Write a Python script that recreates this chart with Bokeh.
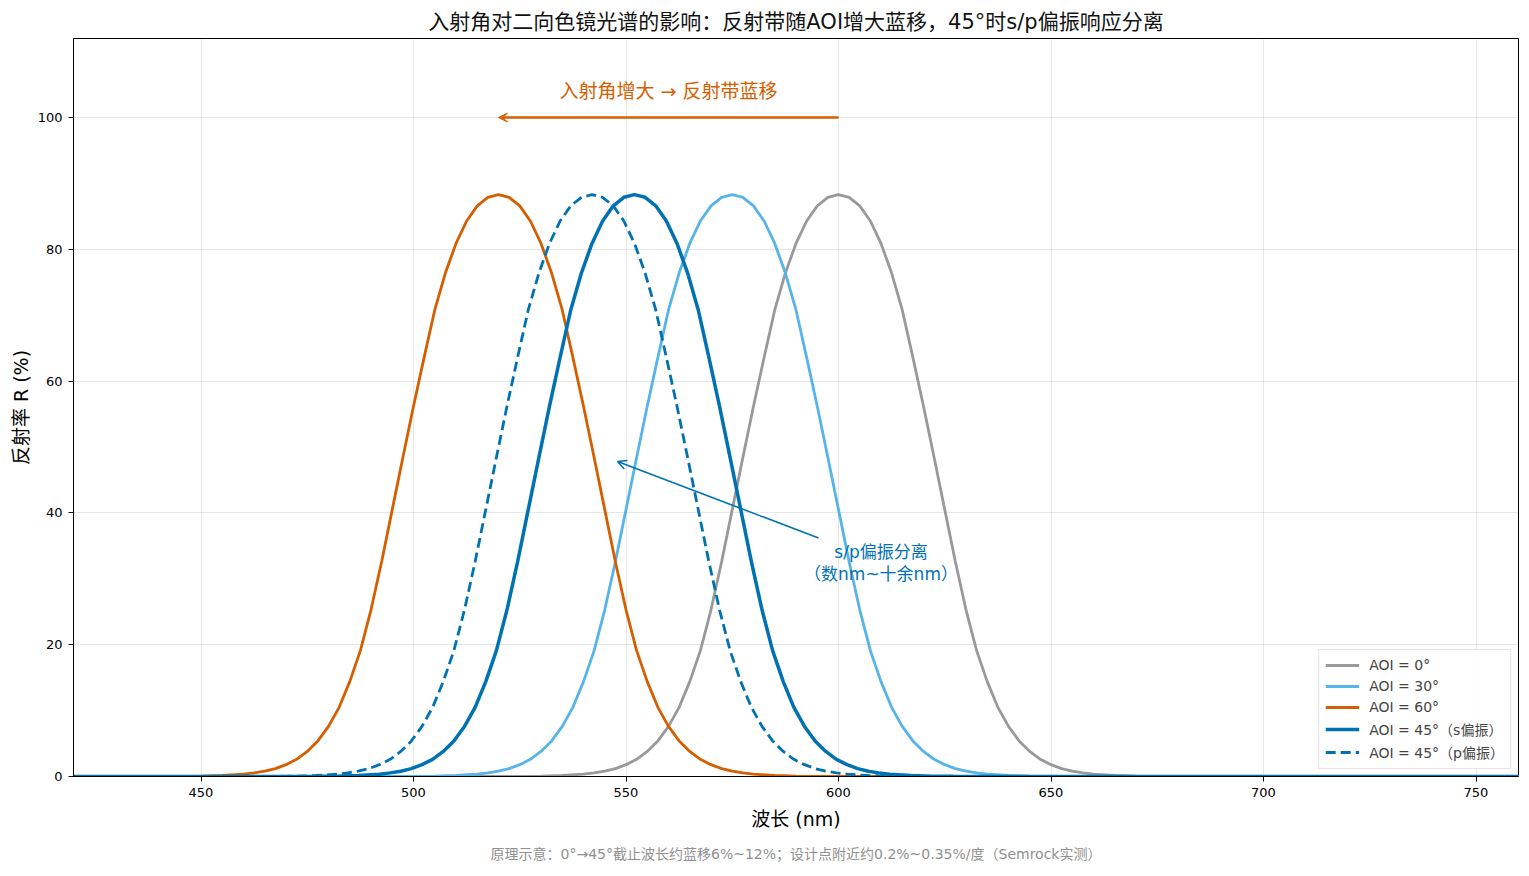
from bokeh.plotting import figure
from bokeh.models import Label, Arrow, VeeHead, OpenHead, Title, Range1d
from bokeh.embed import file_html
from bokeh.resources import INLINE

# the five bands in the picture share one shape; read as R (%) against
# distance (nm) from each band's centre
band_offset_nm = [-200,
                  -75, -70, -65,
                  -60, -57.5, -55, -52.5, -50, -47.5, -45, -42.5, -40, -37.5, -35, -32.5,
                  -30, -27.5, -25, -22.5, -20, -17.5, -15, -12.5, -10, -7.5, -5, -2.5,
                  0,
                  2.5, 5, 7.5, 10, 12.5, 15, 17.5, 20, 22.5, 25, 27.5, 30,
                  32.5, 35, 37.5, 40, 42.5, 45, 47.5, 50, 52.5, 55, 57.5, 60,
                  65, 70, 75,
                  250]
band_refl = [0.0,
             0.02, 0.05, 0.15,
             0.35, 0.55, 0.8, 1.2, 1.8, 2.6, 3.8, 5.4, 7.6, 10.5, 14.4, 19.1,
             25.3, 32.6, 40.5, 48.4, 56.2, 63.6, 70.8, 76.4, 80.9, 84.3, 86.6, 87.9,
             88.3,
             87.9, 86.6, 84.3, 80.9, 76.4, 70.8, 63.6, 56.2, 48.4, 40.5, 32.6, 25.3,
             19.1, 14.4, 10.5, 7.6, 5.4, 3.8, 2.6, 1.8, 1.2, 0.8, 0.55, 0.35,
             0.15, 0.05, 0.02,
             0.0]

series_labels = ["AOI = 0°", "AOI = 30°", "AOI = 60°", "AOI = 45°（s偏振）", "AOI = 45°（p偏振）"]
band_centre_nm = [600, 575, 520, 552, 542]

x_ticks = [450, 500, 550, 600, 650, 700, 750]
y_ticks = [0, 20, 40, 60, 80, 100]

CJK = "DejaVu Sans, Noto Sans CJK SC"
GREY, SKY, ORANGE, BLUE = "#999999", "#56B4E9", "#D55E00", "#0072B2"
styles = [dict(line_color=GREY, line_width=2.8),
          dict(line_color=SKY, line_width=2.8),
          dict(line_color=ORANGE, line_width=2.8),
          dict(line_color=BLUE, line_width=3.5),
          dict(line_color=BLUE, line_width=2.8, line_dash="10 5")]

p = figure(width=1522, height=873, x_range=Range1d(420, 760), y_range=Range1d(0, 112),
           output_backend="svg", toolbar_location=None,
           min_border_left=73, min_border_right=4, min_border_top=38, min_border_bottom=97,
           x_axis_label="波长 (nm)", y_axis_label="反射率 R (%)")

p.title.text = "入射角对二向色镜光谱的影响：反射带随AOI增大蓝移，45°时s/p偏振响应分离"
p.title.align = "center"
p.title.text_font = CJK
p.title.text_font_size = "21px"
p.title.text_font_style = "normal"
p.title.text_color = "#111111"

p.outline_line_color = "black"
p.outline_line_alpha = 1
p.outline_line_width = 1

for ax in (p.xaxis, p.yaxis):
    ax.axis_line_color = "black"
    ax.major_tick_line_color = "black"
    ax.major_tick_out = 5
    ax.major_tick_in = 0
    ax.minor_tick_line_color = None
    ax.major_label_text_font = "DejaVu Sans"
    ax.major_label_text_font_size = "13px"
    ax.major_label_text_color = "black"
    ax.major_label_standoff = 6
    ax.axis_label_text_font = CJK
    ax.axis_label_text_font_size = "19px"
    ax.axis_label_text_font_style = "normal"
    ax.axis_label_text_color = "black"
p.xaxis.axis_label_standoff = 8
p.yaxis.axis_label_standoff = 3
p.xaxis.ticker = x_ticks
p.yaxis.ticker = y_ticks

p.grid.grid_line_color = "#b0b0b0"
p.grid.grid_line_alpha = 0.3

for label, centre, st in zip(series_labels, band_centre_nm, styles):
    wl = [centre + d for d in band_offset_nm]
    p.line(wl, band_refl, legend_label=label, **st)

p.legend.location = "bottom_right"
p.legend.margin = 7
p.legend.padding = 6
p.legend.spacing = 3
p.legend.glyph_width = 34
p.legend.glyph_height = 18
p.legend.label_height = 18
p.legend.label_standoff = 10
p.legend.label_text_font = CJK
p.legend.label_text_font_size = "14px"
p.legend.border_line_color = "#cccccc"
p.legend.background_fill_alpha = 0.85

# blue shift arrow
p.add_layout(Arrow(end=VeeHead(size=9, fill_color=ORANGE, line_color=ORANGE),
                   x_start=600, y_start=100, x_end=520, y_end=100,
                   line_color=ORANGE, line_width=2.5))
p.add_layout(Label(x=560, y=104.0, text="入射角增大 → 反射带蓝移", text_align="center",
                   text_baseline="middle", text_font=CJK, text_font_size="19px",
                   text_color=ORANGE))

# s/p split note
p.add_layout(Arrow(end=OpenHead(size=9, line_color=BLUE, line_width=1.5),
                   x_start=595.3, y_start=36.2, x_end=548, y_end=47.8,
                   line_color=BLUE, line_width=1.6))
p.add_layout(Label(x=610, y=32.4, text="s/p偏振分离\n（数nm~十余nm）", text_align="center",
                   text_baseline="middle", text_font=CJK, text_font_size="17px",
                   text_color=BLUE, text_line_height=1.1))

foot = Title(text="原理示意：0°→45°截止波长约蓝移6%~12%；设计点附近约0.2%~0.35%/度（Semrock实测）",
             align="center", text_font=CJK, text_font_size="14px", text_font_style="normal",
             text_color="#909090", standoff=23)
p.add_layout(foot, "below")

open("out.html", "w").write(file_html(p, INLINE))
